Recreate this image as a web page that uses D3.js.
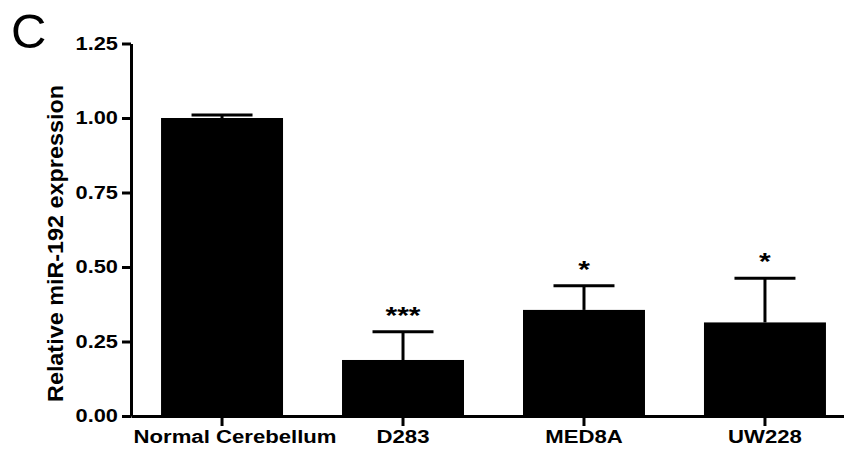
<!DOCTYPE html>
<html><head><meta charset="utf-8">
<script src="https://cdn.jsdelivr.net/npm/d3@7"></script>
<style>
html,body{margin:0;padding:0;background:#fff;}
svg{display:block;}
text{font-family:"Liberation Sans",Arial,sans-serif;}
</style></head>
<body>
<script>
const categories = ["Normal Cerebellum", "D283", "MED8A", "UW228"];
const means = [1.00, 0.188, 0.356, 0.314];
const errors = [0.010, 0.095, 0.081, 0.148];
const significance = ["", "***", "*", "*"];
const yTicks = [0, 0.25, 0.5, 0.75, 1.0, 1.25];
const yTitle = "Relative miR-192 expression";
const panelLabel = "C";

const W = 844, H = 451;
const SX = 1.21; // horizontal stretch seen in reference text

const svg = d3.select("body").append("svg").attr("width", W).attr("height", H);

const y = d3.scaleLinear().domain([0, 1.25]).range([416, 43.5]);
const x = d3.scaleBand().domain(categories).range([131, 856])
  .paddingInner(0.326).paddingOuter(0.166);

function stretch(sel, k) {
  sel.each(function() {
    const len = this.getComputedTextLength();
    d3.select(this).attr("textLength", len * k).attr("lengthAdjust", "spacingAndGlyphs");
  });
}

// bars
svg.append("g").selectAll("rect").data(categories).join("rect")
  .attr("x", d => x(d)).attr("width", x.bandwidth())
  .attr("y", (d, i) => y(means[i])).attr("height", (d, i) => y(0) - y(means[i]))
  .attr("fill", "#000");

// error bars (upper only)
const eb = svg.append("g").attr("stroke", "#000").attr("stroke-width", 3);
categories.forEach((c, i) => {
  const cx = x(c) + x.bandwidth() / 2;
  const top = y(means[i] + errors[i]);
  eb.append("line").attr("x1", cx).attr("x2", cx).attr("y1", y(means[i])).attr("y2", top);
  eb.append("line").attr("x1", cx - x.bandwidth() / 4).attr("x2", cx + x.bandwidth() / 4)
    .attr("y1", top).attr("y2", top);
});

// significance stars
svg.append("g").selectAll("text").data(categories).join("text")
  .attr("x", d => x(d) + x.bandwidth() / 2)
  .attr("y", (d, i) => y(means[i] + errors[i]) - 8)
  .attr("text-anchor", "middle")
  .attr("font-size", 24).attr("font-weight", "bold")
  .text((d, i) => significance[i])
  .call(stretch, 1.25);

// y axis
const gy = svg.append("g").attr("transform", "translate(131,0)")
  .call(d3.axisLeft(y).tickValues(yTicks).tickFormat(d3.format(".2f"))
    .tickSize(9).tickSizeOuter(0).tickPadding(4));
gy.select(".domain").attr("stroke-width", 3);
gy.selectAll(".tick line").attr("stroke-width", 3);
gy.selectAll(".tick text").attr("font-size", 18).attr("font-weight", "bold")
  .attr("font-family", '"Liberation Sans",Arial,sans-serif').attr("fill", "#000")
  .call(stretch, SX);

// x axis
const gx = svg.append("g").attr("transform", "translate(0,416)")
  .call(d3.axisBottom(x).tickSize(10).tickSizeOuter(0).tickPadding(4));
gx.select(".domain").attr("stroke-width", 3);
gx.selectAll(".tick line").attr("stroke-width", 3);
gx.selectAll(".tick text").attr("font-size", 18).attr("font-weight", "bold")
  .attr("font-family", '"Liberation Sans",Arial,sans-serif').attr("fill", "#000")
  .attr("dx", (d, i) => i === 0 ? 13 : 0)
  .call(stretch, SX + 0.02);

// y title
svg.append("text")
  .attr("transform", "translate(63,243.5) rotate(-90)")
  .attr("text-anchor", "middle")
  .attr("font-size", 22).attr("font-weight", "bold")
  .attr("textLength", 317).attr("lengthAdjust", "spacingAndGlyphs")
  .text(yTitle);

// panel label
svg.append("text").attr("x", 11).attr("y", 48)
  .attr("font-size", 49).text(panelLabel);
</script>
</body></html>
